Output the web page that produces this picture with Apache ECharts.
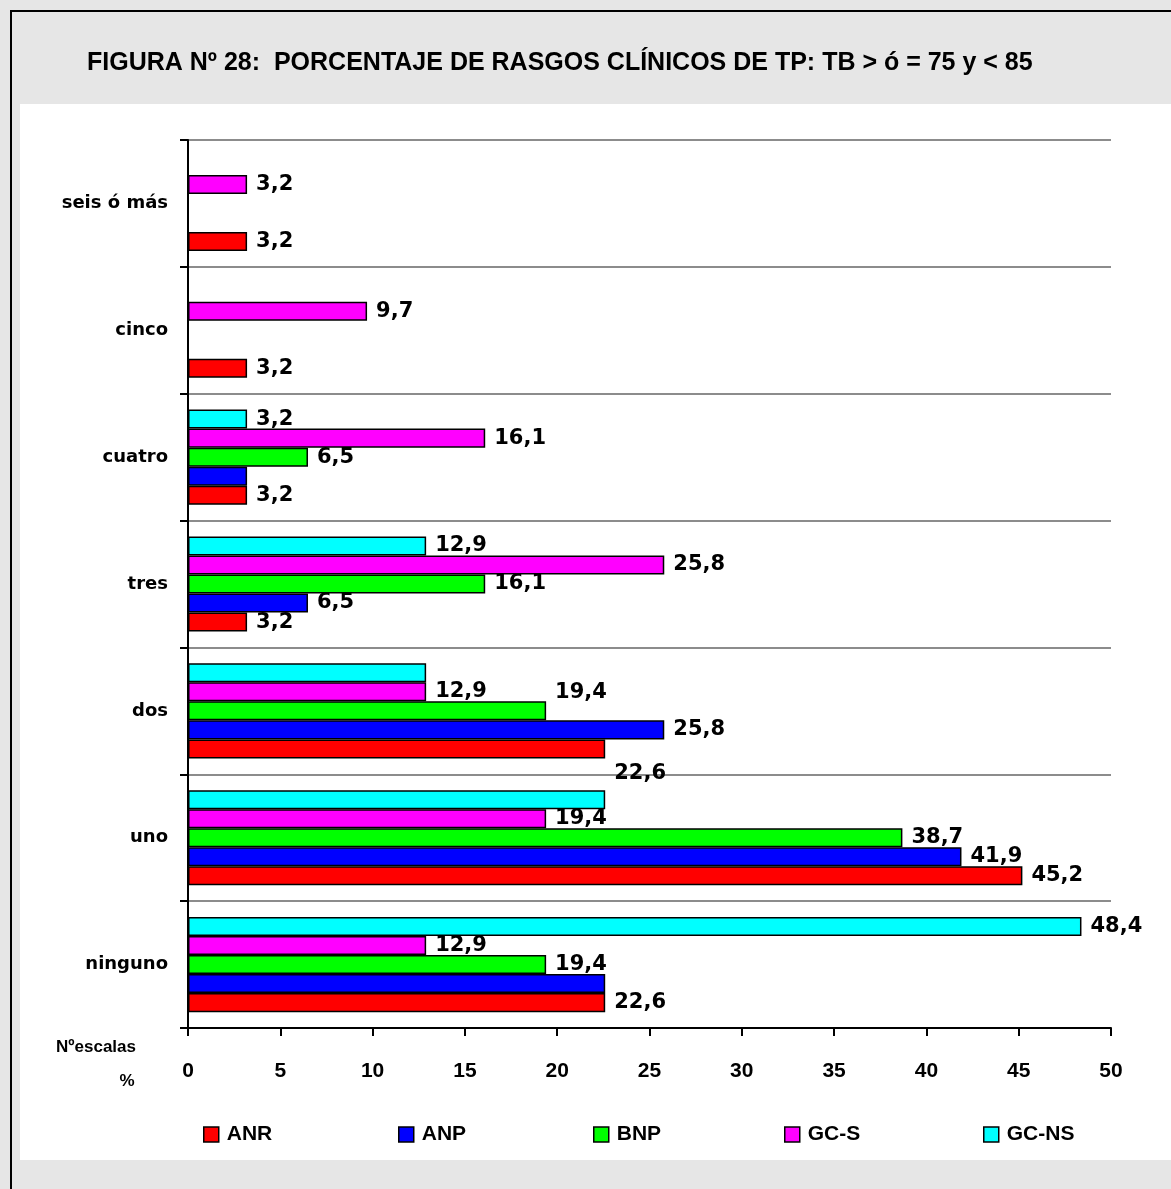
<!DOCTYPE html>
<html>
<head>
<meta charset="utf-8">
<title>Figura 28</title>
<script src="https://cdn.jsdelivr.net/npm/echarts@6/dist/echarts.min.js"></script>
<style>
  html, body { margin: 0; padding: 0; background: #e6e6e6; }
  #chart { width: 1171px; height: 1189px; }
</style>
</head>
<body>
<div id="chart"></div>
<script>
// Categories: number of clinical traits (bottom to top)
const categories = ['ninguno', 'uno', 'dos', 'tres', 'cuatro', 'cinco', 'seis ó más'];

// Percentages per group
const ANR  = [22.6, 45.2, 22.6, 3.2, 3.2, 3.2, 3.2];
const ANP  = [22.6, 41.9, 25.8, 6.5, 3.2, null, null];
const BNP  = [19.4, 38.7, 19.4, 16.1, 6.5, null, null];
const GCS  = [12.9, 19.4, 12.9, 25.8, 16.1, 9.7, 3.2];
const GCNS = [48.4, 22.6, 12.9, 12.9, 3.2, null, null];

const xTicks = { min: 0, max: 50, interval: 5 };

const groups = [
  { name: 'ANR',   values: ANR,  color: '#ff0000' },
  { name: 'ANP',   values: ANP,  color: '#0000ff' },
  { name: 'BNP',   values: BNP,  color: '#00ff00' },
  { name: 'GC-S',  values: GCS,  color: '#ff00ff' },
  { name: 'GC-NS', values: GCNS, color: '#00ffff' }
];

// Label placement tweaks for crowded groups (index = category)
const labelTweaks = {
  'ANP':   { 0: { show: false }, 4: { show: false } },
  'GC-NS': { 1: { show: false }, 2: { show: false } },
  'BNP':   { 2: { offset: [0, -18] } },
  'ANR':   { 2: { offset: [0, 25] } }
};

const fmt = v => v.toFixed(1).replace('.', ',');

// Series are listed top-to-bottom inside each category band
const series = groups.slice().reverse().map(g => ({
  name: g.name,
  type: 'bar',
  barGap: '0%',
  barCategoryGap: '25%',
  itemStyle: { color: g.color, borderColor: '#000', borderWidth: 1.5 },
  label: {
    show: true,
    position: 'right',
    distance: 9,
    offset: [0, 0],
    color: '#000',
    fontFamily: 'DejaVu Sans',
    fontWeight: 'bold',
    fontSize: 21,
    formatter: p => fmt(p.value)
  },
  data: g.values.map((v, i) => {
    const t = (labelTweaks[g.name] || {})[i];
    return t ? { value: v, label: t } : v;
  })
}));

const legendLeft = [203, 398, 593, 784, 983];
const legends = groups.map((g, i) => ({
  data: [g.name],
  left: legendLeft[i],
  top: 1124,
  padding: 0,
  icon: 'rect',
  itemWidth: 15,
  itemHeight: 15,
  selectedMode: false,
  itemStyle: { borderColor: '#000', borderWidth: 1.5 },
  textStyle: {
    fontFamily: 'Liberation Sans',
    fontWeight: 'bold',
    fontSize: 21,
    color: '#000',
    padding: [0, 0, 0, 3]
  }
}));

const chart = echarts.init(document.getElementById('chart'), null, { renderer: 'canvas' });
chart.setOption({
  backgroundColor: '#e6e6e6',
  animation: false,
  title: {
    text: 'FIGURA Nº 28:  PORCENTAJE DE RASGOS CLÍNICOS DE TP: TB > ó = 75 y < 85',
    left: 87,
    top: 51,
    padding: 0,
    textStyle: {
      fontFamily: 'Liberation Sans',
      fontWeight: 'bold',
      fontSize: 25,
      color: '#000'
    }
  },
  graphic: [
    {
      type: 'rect', z: -100, silent: true,
      shape: { x: 11, y: 11, width: 1300, height: 1300 },
      style: { fill: '#e6e6e6', stroke: '#000', lineWidth: 2 }
    },
    {
      type: 'rect', z: -90, silent: true,
      shape: { x: 20, y: 104, width: 1300, height: 1056 },
      style: { fill: '#ffffff' }
    },
    {
      type: 'text', silent: true,
      style: {
        text: 'Nºescalas', x: 96, y: 1047, textAlign: 'center', textVerticalAlign: 'middle',
        font: 'bold 17px "Liberation Sans"', fill: '#000'
      }
    },
    {
      type: 'text', silent: true,
      style: {
        text: '%', x: 127, y: 1081, textAlign: 'center', textVerticalAlign: 'middle',
        font: 'bold 17px "Liberation Sans"', fill: '#000'
      }
    }
  ],
  legend: legends,
  grid: { left: 188, right: 60, top: 140, height: 888, containLabel: false },
  xAxis: {
    type: 'value',
    min: xTicks.min,
    max: xTicks.max,
    interval: xTicks.interval,
    axisLine: { show: true, lineStyle: { color: '#000', width: 2 } },
    axisTick: { show: true, length: 8, lineStyle: { color: '#000', width: 2 } },
    splitLine: { show: false },
    axisLabel: {
      margin: 33,
      color: '#000',
      fontFamily: 'Liberation Sans',
      fontWeight: 'bold',
      fontSize: 21
    }
  },
  yAxis: {
    type: 'category',
    data: categories,
    axisLine: { show: true, lineStyle: { color: '#000', width: 2 } },
    axisTick: { show: true, length: 8, lineStyle: { color: '#000', width: 2 } },
    splitLine: { show: true, lineStyle: { color: '#8c8c8c', width: 2 } },
    axisLabel: {
      margin: 20,
      color: '#000',
      fontFamily: 'DejaVu Sans',
      fontWeight: 'bold',
      fontSize: 18
    }
  },
  series: series
});
</script>
</body>
</html>
